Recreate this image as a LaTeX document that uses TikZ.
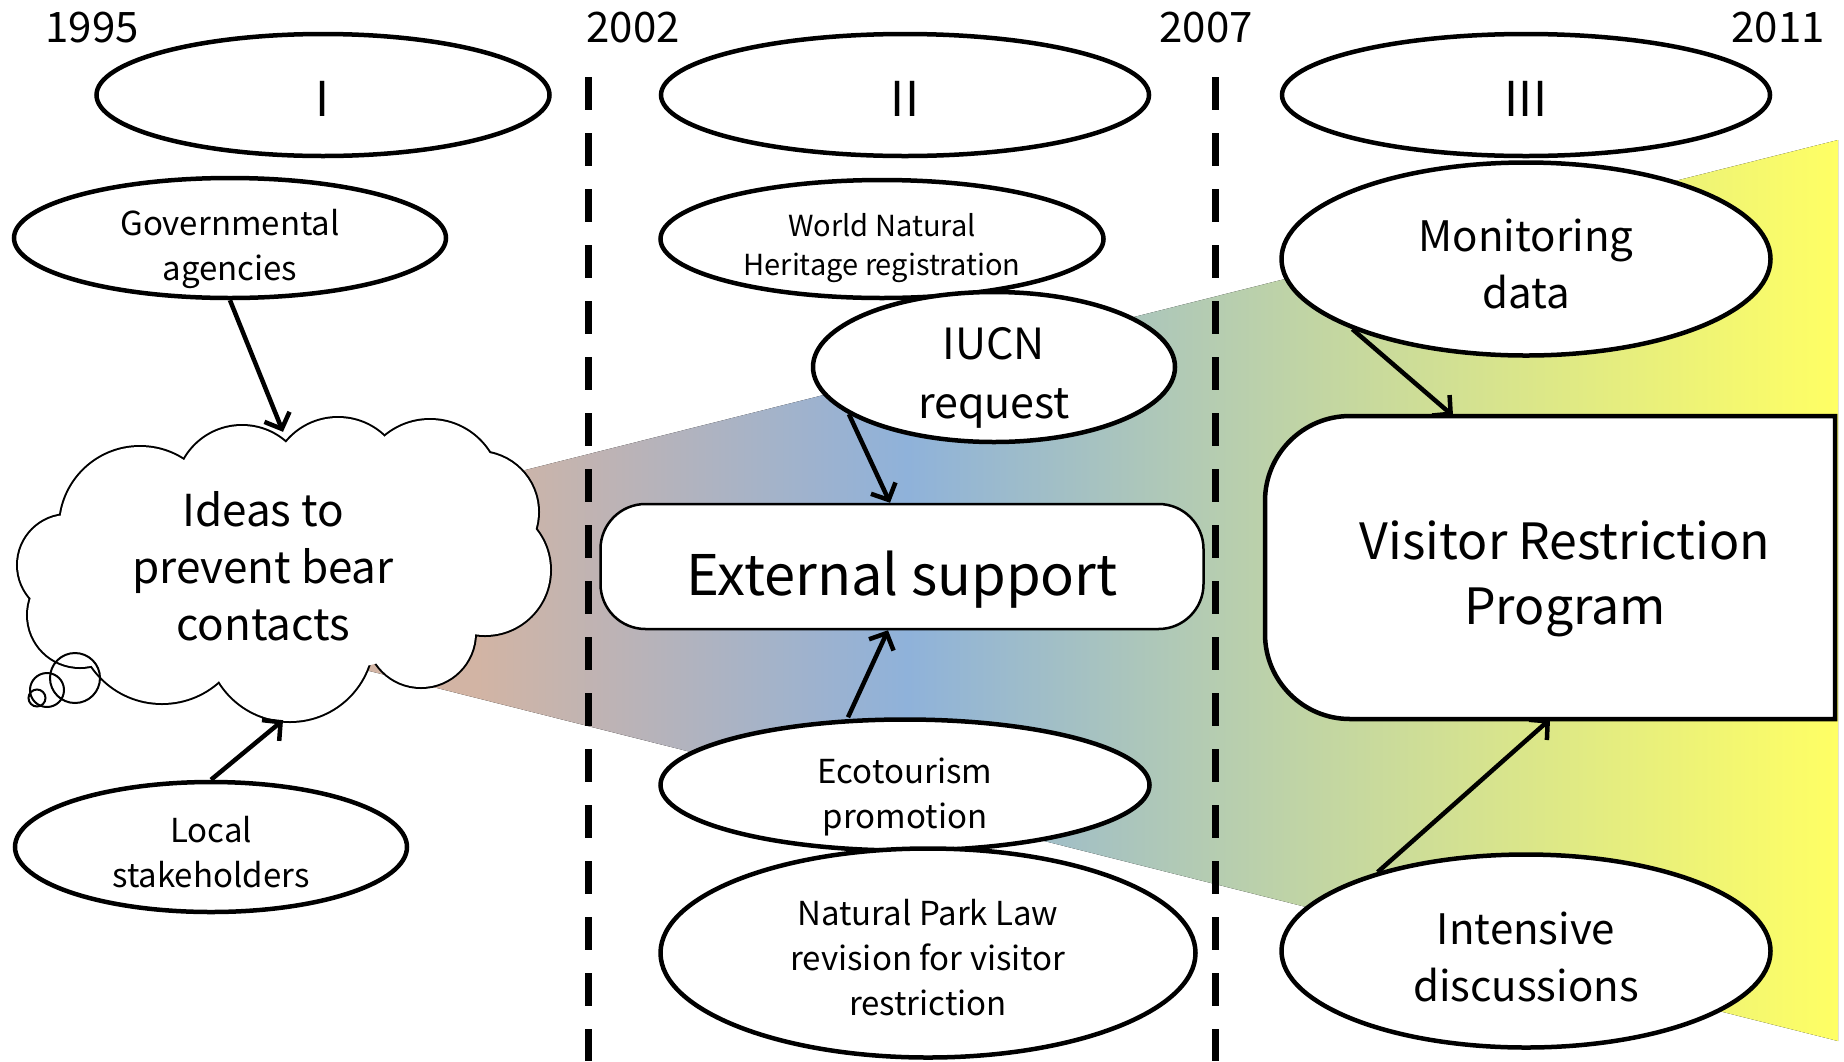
\documentclass[tikz,border=0pt]{standalone}
\usepackage{fontspec}
\setmainfont{Noto Sans CJK JP}
\usetikzlibrary{arrows.meta,shapes.geometric}
\definecolor{bandtan}{RGB}{210,180,164}
\definecolor{bandblue}{RGB}{143,178,218}
\definecolor{bandgreen}{RGB}{192,212,165}
\definecolor{bandyellow}{RGB}{255,255,100}
\pgfdeclarehorizontalshading{eraband}{100bp}{color(0bp)=(bandtan); color(37bp)=(bandtan); color(49bp)=(bandblue); color(60bp)=(bandgreen); color(75bp)=(bandyellow); color(100bp)=(bandyellow)}

\begin{document}
\begin{tikzpicture}[x=1pt,y=-1pt,
  oval/.style={ellipse,draw,fill=white,line width=4.5pt,inner sep=0pt},
  txtsmall/.style={font=\fontsize{33}{45}\selectfont,align=center},
  txtmid/.style={font=\fontsize{42}{57}\selectfont,align=center},
  txtbig/.style={font=\fontsize{48}{63}\selectfont,align=center},
  yearlbl/.style={font=\fontsize{42}{42}\selectfont},
  link/.style={line width=4.5pt,-{Straight Barb[length=13pt,width=27pt]}},
  erasep/.style={line width=7pt,dash pattern=on 33pt off 23pt}]
\useasboundingbox (0,0) rectangle (1844,1061);

\fill[shading=eraband] (48,590) -- (1838,140) -- (1838,1041) -- cycle;
\draw[erasep] (588,77) -- (588,1061);
\draw[erasep] (1215,77) -- (1215,1061);

\node[yearlbl] (y1995) at (92,28) {1995};
\node[yearlbl] (y2002) at (633,28) {2002};
\node[yearlbl] (y2007) at (1206,28) {2007};
\node[yearlbl] (y2011) at (1778,28) {2011};

\node[oval,minimum width=453pt,minimum height=122pt,label={[txtbig,yshift=-4pt]center:I}] (ph1) at (323,95) {};
\node[oval,minimum width=488pt,minimum height=122pt,label={[txtbig,yshift=-4pt]center:II}] (ph2) at (905,95) {};
\node[oval,minimum width=488pt,minimum height=122pt,label={[txtbig,yshift=-4pt]center:III}] (ph3) at (1526,95) {};

\node[oval,minimum width=432pt,minimum height=120pt,label={[txtsmall,yshift=-11pt]center:{Governmental\\agencies}}] (gov) at (230,238) {};
\node[oval,minimum width=443pt,minimum height=118pt,label={[font=\fontsize{29}{39}\selectfont,align=center,yshift=-9pt]center:{World Natural\\Heritage registration}}] (wnh) at (882,239) {};
\node[oval,minimum width=362pt,minimum height=150pt,label={[font=\fontsize{43}{59}\selectfont,align=center,yshift=-11pt]center:{IUCN\\request}}] (iucn) at (994,367) {};
\node[oval,minimum width=489pt,minimum height=193pt,label={[txtmid,yshift=-5pt]center:{Monitoring\\data}}] (mon) at (1526,259) {};

\foreach \cx/\cy/\r in {140/527/80,242/492/66,338/485/67,430/490/70,478/512/60,485/570/65,421/633/54,290/638/83,162/618/85,80/615/52,68/565/50}
  \draw[line width=4pt] (\cx,\cy) circle[radius=\r pt];
\foreach \cx/\cy/\r in {140/527/80,242/492/66,338/485/67,430/490/70,478/512/60,485/570/65,421/633/54,290/638/83,162/618/85,80/615/52,68/565/50}
  \fill[white] (\cx,\cy) circle[radius=\r pt];
\fill[white] (283,575) ellipse[x radius=200pt,y radius=100pt];
\node[ellipse,minimum width=534pt,minimum height=302pt] (cloud) at (283,569) {};
\node[align=center,font=\fontsize{44}{57}\selectfont] (ideas) at (263,566) {Ideas to\\prevent bear\\contacts};
\draw[line width=2pt] (75,678) circle[radius=25pt];
\draw[line width=2pt] (47,690) circle[radius=17pt];
\draw[line width=2pt] (37,698) circle[radius=8.5pt];

\node[oval,minimum width=392pt,minimum height=130pt,label={[txtsmall,yshift=-5pt]center:{Local\\stakeholders}}] (local) at (211,847) {};

\node[draw,fill=white,line width=2.5pt,rounded corners=45pt,minimum width=603pt,minimum height=125pt,label={[font=\fontsize{56}{56}\selectfont,yshift=-13pt]center:External support}] (ext) at (902,566.5) {};
\node[oval,minimum width=489pt,minimum height=131pt,label={[txtsmall,yshift=-12pt]center:{Ecotourism\\promotion}}] (eco) at (905,785) {};
\node[oval,minimum width=535pt,minimum height=209pt,label={[txtsmall,yshift=-5pt]center:{Natural Park Law\\revision for visitor\\restriction}}] (npl) at (928,953) {};

\draw[line width=4.5pt,fill=white] (1835,416) -- (1350,416) arc[start angle=90,end angle=180,radius=85pt] -- (1265,634) arc[start angle=180,end angle=270,radius=85pt] -- (1835,719) -- cycle;
\node[minimum width=570pt,minimum height=303pt,label={[font=\fontsize{50}{65}\selectfont,align=center,xshift=15pt,yshift=-11pt]center:{Visitor Restriction\\Program}}] (vrp) at (1550,567.5) {};
\node[oval,minimum width=489pt,minimum height=193pt,label={[txtmid,yshift=-6pt]center:{Intensive\\discussions}}] (int) at (1526,951) {};

\draw[link] (gov.south) -- ([yshift=-14pt]cloud.north);
\draw[link] (local.north) -- (cloud.south);
\draw[link] (iucn.198) -- ([xshift=-12pt]ext.north);
\draw[link] ([xshift=-57pt]eco.north) -- ([xshift=-14pt]ext.south);
\draw[link] (mon.202) -- ([xshift=-97pt]vrp.north);
\draw[link] (int.152) -- (vrp.south);
\end{tikzpicture}
\end{document}
